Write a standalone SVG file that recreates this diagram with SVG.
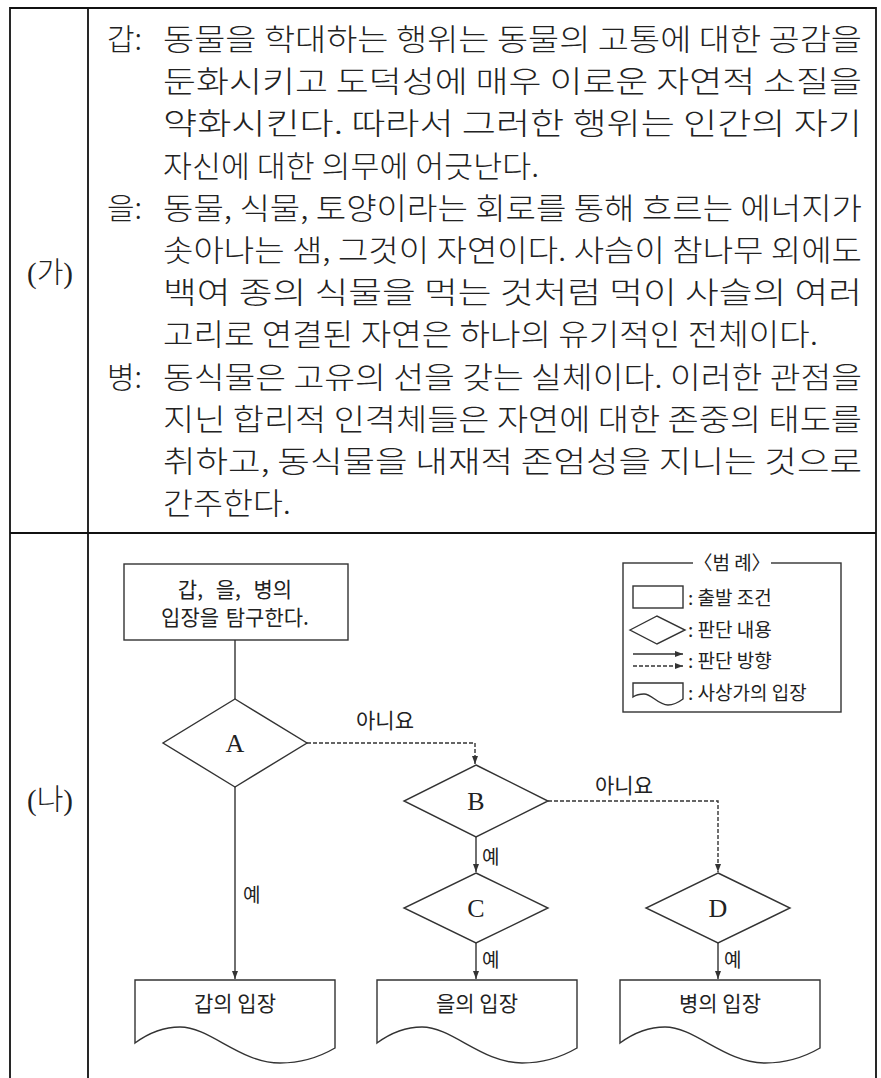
<svg xmlns="http://www.w3.org/2000/svg" width="881" height="1078" viewBox="0 0 881 1078">
<style>
.body{font-family:"Noto Sans CJK KR",sans-serif;font-size:30px;font-weight:300;fill:#222}
.lbl{font-family:"Liberation Serif","Noto Sans CJK KR",serif;font-size:29px;font-weight:300;fill:#222}
.fl{font-family:"Noto Sans CJK KR",sans-serif;font-size:21px;fill:#222}
.bx{font-family:"Noto Sans CJK KR",sans-serif;font-size:21px;fill:#222}
.sm{font-family:"Noto Sans CJK KR",sans-serif;font-size:19px;fill:#222}
.lg{font-family:"Noto Sans CJK KR",sans-serif;font-size:19px;fill:#222}
.let{font-family:"Liberation Serif",serif;font-size:26px;fill:#222;text-anchor:middle}
.mid{text-anchor:middle}
.shape{fill:#fff;stroke:#333;stroke-width:1.4}
.con{fill:none;stroke:#333;stroke-width:1.4}
.dash{stroke-dasharray:4 2}
.frame{fill:none;stroke:#111;stroke-width:1.8}
</style>
<defs>
<marker id="ah" markerWidth="8" markerHeight="6" refX="8" refY="3" orient="auto" markerUnits="userSpaceOnUse"><path d="M0,0 L8,3 L0,6 Z" fill="#333"/></marker>
</defs>
<rect width="881" height="1078" fill="#fff"/>
<g id="frame">
<path class="frame" d="M10,1078 V8 H876 V1078 M88,8 V1078 M10,533 H876"/>
<text class="lbl mid" x="50" y="283">(가)</text>
<text class="lbl mid" x="50" y="810">(나)</text>
</g>
<g id="passage">
<text class="body" x="107" y="50">갑:</text>
<text class="body" x="163" y="50" textLength="699" lengthAdjust="spacingAndGlyphs">동물을 학대하는 행위는 동물의 고통에 대한 공감을</text>
<text class="body" x="163" y="92.2" textLength="699" lengthAdjust="spacingAndGlyphs">둔화시키고 도덕성에 매우 이로운 자연적 소질을</text>
<text class="body" x="163" y="134.4" textLength="699" lengthAdjust="spacingAndGlyphs">약화시킨다. 따라서 그러한 행위는 인간의 자기</text>
<text class="body" x="163" y="176.6" textLength="376" lengthAdjust="spacingAndGlyphs">자신에 대한 의무에 어긋난다.</text>
<text class="body" x="107" y="218.8">을:</text>
<text class="body" x="163" y="218.8" textLength="699" lengthAdjust="spacingAndGlyphs">동물, 식물, 토양이라는 회로를 통해 흐르는 에너지가</text>
<text class="body" x="163" y="261" textLength="699" lengthAdjust="spacingAndGlyphs">솟아나는 샘, 그것이 자연이다. 사슴이 참나무 외에도</text>
<text class="body" x="163" y="303.2" textLength="699" lengthAdjust="spacingAndGlyphs">백여 종의 식물을 먹는 것처럼 먹이 사슬의 여러</text>
<text class="body" x="163" y="345.4" textLength="655" lengthAdjust="spacingAndGlyphs">고리로 연결된 자연은 하나의 유기적인 전체이다.</text>
<text class="body" x="107" y="387.6">병:</text>
<text class="body" x="163" y="387.6" textLength="699" lengthAdjust="spacingAndGlyphs">동식물은 고유의 선을 갖는 실체이다. 이러한 관점을</text>
<text class="body" x="163" y="429.8" textLength="699" lengthAdjust="spacingAndGlyphs">지닌 합리적 인격체들은 자연에 대한 존중의 태도를</text>
<text class="body" x="163" y="472" textLength="699" lengthAdjust="spacingAndGlyphs">취하고, 동식물을 내재적 존엄성을 지니는 것으로</text>
<text class="body" x="163" y="514.2" textLength="128" lengthAdjust="spacingAndGlyphs">간주한다.</text>
</g>
<g id="connectors">
<path class="con" d="M235,640 V699"/>
<path class="con" d="M235,787 V979" marker-end="url(#ah)"/>
<path class="con dash" d="M307,743 H475 V764" marker-end="url(#ah)"/>
<path class="con" d="M476,837 V872" marker-end="url(#ah)"/>
<path class="con dash" d="M548,801 H718 V872" marker-end="url(#ah)"/>
<path class="con" d="M476,943 V979" marker-end="url(#ah)"/>
<path class="con" d="M718,943 V979" marker-end="url(#ah)"/>
<text class="fl mid" x="385" y="728">아니요</text>
<text class="fl mid" x="624" y="793">아니요</text>
<text class="sm" x="243" y="902">예</text>
<text class="sm" x="482" y="864">예</text>
<text class="sm" x="482" y="967">예</text>
<text class="sm" x="724" y="967">예</text>
</g>
<g id="start">
<rect class="shape" x="124" y="564" width="224" height="76"/>
<text class="bx mid" x="235" y="597" word-spacing="8">갑, 을, 병의</text>
<text class="bx mid" x="235" y="625" word-spacing="2">입장을 탐구한다.</text>
</g>
<g id="A">
<polygon class="shape" points="235,699 307,743 235,787 163,743"/>
<text class="let" x="235" y="752">A</text>
</g>
<g id="B">
<polygon class="shape" points="476,765 548,801 476,837 404,801"/>
<text class="let" x="476" y="810">B</text>
</g>
<g id="C">
<polygon class="shape" points="476,873 548,908 476,943 404,908"/>
<text class="let" x="476" y="917">C</text>
</g>
<g id="D">
<polygon class="shape" points="718,873 790,908 718,943 646,908"/>
<text class="let" x="718" y="917">D</text>
</g>
<g id="doc1">
<path class="shape" d="M135,980 H335 V1048 C323,1055 305,1063 280,1063 C240,1063 210,1027 180,1027 C165,1027 150,1032 135,1043 Z"/>
<text class="fl mid" x="235" y="1011">갑의 입장</text>
</g>
<g id="doc2">
<path class="shape" d="M377,980 H577 V1048 C565,1055 547,1063 522,1063 C482,1063 452,1027 422,1027 C407,1027 392,1032 377,1043 Z"/>
<text class="fl mid" x="477" y="1011">을의 입장</text>
</g>
<g id="doc3">
<path class="shape" d="M620,980 H820 V1048 C808,1055 790,1063 765,1063 C725,1063 695,1027 665,1027 C650,1027 635,1032 620,1043 Z"/>
<text class="fl mid" x="720" y="1011">병의 입장</text>
</g>
<g id="legend">
<rect class="shape" x="623" y="563" width="218" height="149"/>
<rect x="693" y="553" width="78" height="20" fill="#fff"/>
<text class="lg mid" x="732" y="570">〈범 례〉</text>
<rect class="shape" x="633" y="586" width="50" height="22"/>
<text class="lg" x="688" y="605">: 출발 조건</text>
<polygon class="shape" points="630,630 657,616 685,630 657,644"/>
<text class="lg" x="688" y="637">: 판단 내용</text>
<path class="con" d="M633,654 H683" marker-end="url(#ah)"/>
<path class="con dash" d="M633,666 H683" marker-end="url(#ah)"/>
<text class="lg" x="688" y="668">: 판단 방향</text>
<path class="shape" d="M633,683 H683 V699 C679,702 674,705 668,705 C658,705 652,694 644,694 C640,694 636,695 633,697 Z"/>
<text class="lg" x="688" y="700">: 사상가의 입장</text>
</g>
</svg>
